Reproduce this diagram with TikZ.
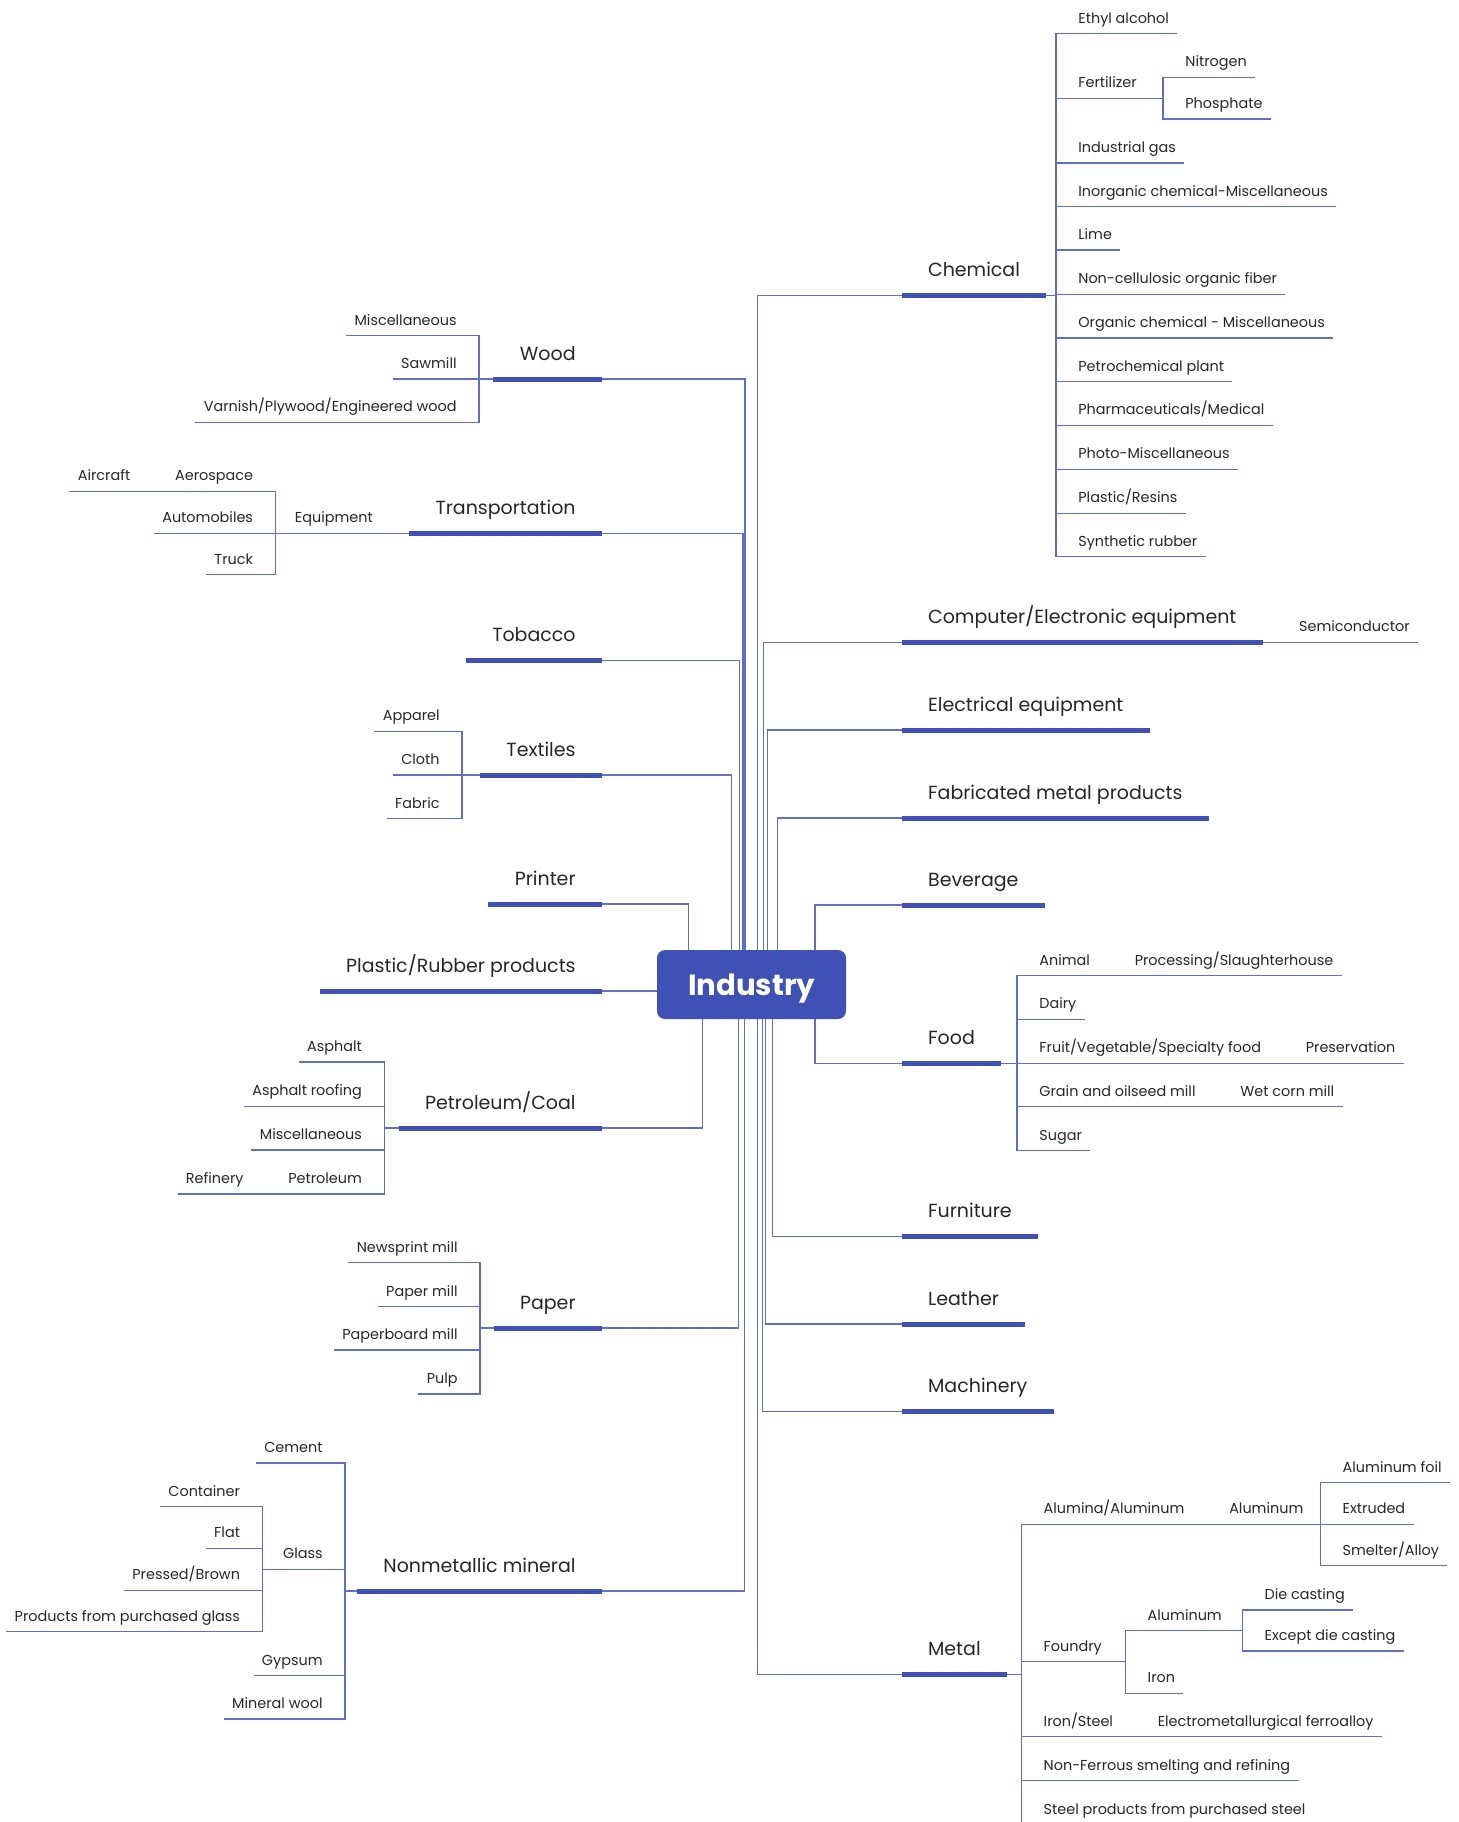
\documentclass[tikz,border=0pt]{standalone}
\usepackage{fontspec}
\setmainfont{Poppins}
\definecolor{indigo}{RGB}{63,81,181}
\definecolor{linkblue}{RGB}{95,110,200}
\definecolor{inktext}{RGB}{38,38,38}

\tikzset{
  mainnode/.style={inner xsep=13pt, inner ysep=0pt, text height=7pt, text depth=9.3pt,
    font=\fontsize{9.5}{11}\selectfont, text=inktext},
  leaf/.style={inner xsep=4pt, inner ysep=0pt, text height=5.5pt, text depth=5pt,
    font=\fontsize{7.2}{9}\selectfont, text=inktext},
  link/.style={draw=linkblue, line width=0.75pt},
  bar/.style={draw=indigo, line width=2.5pt},
}

\begin{document}
\begin{tikzpicture}[x=0.5pt,y=-0.5pt]
  \useasboundingbox (0,0) rectangle (1459,1822);

  % centre
  \node[fill=indigo, rounded corners=4pt, minimum width=94.5pt, minimum height=34.5pt,
    inner sep=0pt, text depth=0pt, text=white, font=\fontsize{14.6}{17}\selectfont\bfseries] (ind) at (751.5,984.5) {Industry};

  % main branches, left
  \node[mainnode, anchor=south east] (wood) at (602,379) {Wood};
  \node[mainnode, anchor=south east] (trans) at (602,533.3) {Transportation};
  \node[mainnode, anchor=south east] (tob) at (602,660.7) {Tobacco};
  \node[mainnode, anchor=south east] (texl) at (602,775) {Textiles};
  \node[mainnode, anchor=south east] (prnt) at (602,904) {Printer};
  \node[mainnode, anchor=south east] (plas) at (602,991) {Plastic/Rubber products};
  \node[mainnode, anchor=south east] (petc) at (602,1128) {Petroleum/Coal};
  \node[mainnode, anchor=south east] (papr) at (602,1328) {Paper};
  \node[mainnode, anchor=south east] (nonm) at (602,1591) {Nonmetallic mineral};

  % main branches, right
  \node[mainnode, anchor=south west] (chem) at (901.7,295.3) {Chemical};
  \node[mainnode, anchor=south west] (comp) at (901.7,642.3) {Computer/Electronic equipment};
  \node[mainnode, anchor=south west] (elec) at (901.7,730) {Electrical equipment};
  \node[mainnode, anchor=south west] (fabm) at (901.7,818) {Fabricated metal products};
  \node[mainnode, anchor=south west] (bev) at (901.7,905) {Beverage};
  \node[mainnode, anchor=south west] (food) at (901.7,1063.3) {Food};
  \node[mainnode, anchor=south west] (furn) at (901.7,1236.7) {Furniture};
  \node[mainnode, anchor=south west] (leat) at (901.7,1324) {Leather};
  \node[mainnode, anchor=south west] (mach) at (901.7,1411.7) {Machinery};
  \node[mainnode, anchor=south west] (metl) at (901.7,1674.3) {Metal};

  \foreach \m in {wood,trans,tob,texl,prnt,plas,petc,papr,nonm,chem,comp,elec,fabm,bev,food,furn,leat,mach,metl}
    \draw[bar] (\m.south west) -- (\m.south east);

  % trunk lines
  \foreach \m/\dx in {wood/-3.25,trans/-4.25,tob/-6.1,texl/-9.9,prnt/-31.6}
    \draw[link] ([xshift=\dx pt]ind.north) |- (\m.south east);
  \foreach \m/\dx in {petc/-24.6,papr/-6.6,nonm/-3.6}
    \draw[link] ([xshift=\dx pt]ind.south) |- (\m.south east);
  \foreach \m/\dx in {chem/3.1,comp/5.9,elec/8.1,fabm/12.9,bev/31.75}
    \draw[link] ([xshift=\dx pt]ind.north) |- (\m.south west);
  \foreach \m/\dx in {food/31.75,furn/10.4,leat/7.1,mach/5.4,metl/3.1}
    \draw[link] ([xshift=\dx pt]ind.south) |- (\m.south west);
  \draw[link] (plas.south east) -- (plas.south east -| ind.west);

  % Chemical
  \node[leaf, anchor=south west] (eth) at (1070,33.7) {Ethyl alcohol};
  \node[leaf, anchor=south west] (fert) at (1070,98.3) {Fertilizer};
  \node[leaf, anchor=south west] (igas) at (1070,163) {Industrial gas};
  \node[leaf, anchor=south west] (inorg) at (1070,206.7) {Inorganic chemical-Miscellaneous};
  \node[leaf, anchor=south west] (lime) at (1070,250) {Lime};
  \node[leaf, anchor=south west] (ncell) at (1070,294.3) {Non-cellulosic organic fiber};
  \node[leaf, anchor=south west] (orgc) at (1070,338) {Organic chemical - Miscellaneous};
  \node[leaf, anchor=south west] (ptrc) at (1070,381.7) {Petrochemical plant};
  \node[leaf, anchor=south west] (phar) at (1070,425.3) {Pharmaceuticals/Medical};
  \node[leaf, anchor=south west] (phot) at (1070,469.3) {Photo-Miscellaneous};
  \node[leaf, anchor=south west] (plrs) at (1070,513.3) {Plastic/Resins};
  \node[leaf, anchor=south west] (synr) at (1070,556.7) {Synthetic rubber};
  \node[leaf, anchor=south west] (nitr) at (1177,77.3) {Nitrogen};
  \node[leaf, anchor=south west] (phos) at (1177,119) {Phosphate};
  \foreach \c in {eth,fert,igas,inorg,lime,ncell,orgc,ptrc,phar,phot,plrs,synr}
    \draw[link] (chem.south east) -| ([xshift=-7pt]\c.south west) -- (\c.south east);
  \foreach \c in {nitr,phos}
    \draw[link] (fert.south east) -| ([xshift=-7pt]\c.south west) -- (\c.south east);

  % Computer
  \node[leaf, anchor=south west] (semi) at ([xshift=14pt]comp.south east) {Semiconductor};
  \draw[link] (comp.south east) -- (semi.south east);

  % Food
  \node[leaf, anchor=south west] (anim) at (1031,975.7) {Animal};
  \node[leaf, anchor=south west] (dair) at (1031,1019.3) {Dairy};
  \node[leaf, anchor=south west] (frui) at (1031,1063.3) {Fruit/Vegetable/Specialty food};
  \node[leaf, anchor=south west] (grai) at (1031,1106.7) {Grain and oilseed mill};
  \node[leaf, anchor=south west] (sugr) at (1031,1150.7) {Sugar};
  \node[leaf, anchor=south west] (proc) at ([xshift=14pt]anim.south east) {Processing/Slaughterhouse};
  \node[leaf, anchor=south west] (pres) at ([xshift=14pt]frui.south east) {Preservation};
  \node[leaf, anchor=south west] (wetc) at ([xshift=14pt]grai.south east) {Wet corn mill};
  \foreach \c in {anim,dair,frui,grai,sugr}
    \draw[link] (food.south east) -| ([xshift=-7pt]\c.south west) -- (\c.south east);
  \foreach \a/\b in {anim/proc,frui/pres,grai/wetc}
    \draw[link] (\a.south east) -- (\b.south east);

  % Metal
  \node[leaf, anchor=south west] (alum) at (1035.3,1524.3) {Alumina/Aluminum};
  \node[leaf, anchor=south west] (alu2) at ([xshift=14pt]alum.south east) {Aluminum};
  \node[leaf, anchor=south west] (afoi) at (1334.3,1482.7) {Aluminum foil};
  \node[leaf, anchor=south west] (extr) at (1334.3,1524.3) {Extruded};
  \node[leaf, anchor=south west] (smlt) at (1334.3,1565.7) {Smelter/Alloy};
  \node[leaf, anchor=south west] (fndr) at (1035.3,1661.7) {Foundry};
  \node[leaf, anchor=south west] (falu) at (1139.3,1630.7) {Aluminum};
  \node[leaf, anchor=south west] (diec) at (1256.3,1610) {Die casting};
  \node[leaf, anchor=south west] (exdc) at (1256.3,1651) {Except die casting};
  \node[leaf, anchor=south west] (iron) at (1139.3,1693.3) {Iron};
  \node[leaf, anchor=south west] (irst) at (1035.3,1736.7) {Iron/Steel};
  \node[leaf, anchor=south west] (elmf) at ([xshift=14pt]irst.south east) {Electrometallurgical ferroalloy};
  \node[leaf, anchor=south west] (nonf) at (1035.3,1780.7) {Non-Ferrous smelting and refining};
  \node[leaf, anchor=south west] (stpr) at (1035.3,1824.4) {Steel products from purchased steel};
  \foreach \c in {alum,fndr,irst,nonf,stpr}
    \draw[link] (metl.south east) -| ([xshift=-7pt]\c.south west) -- (\c.south east);
  \draw[link] (alum.south east) -- (alu2.south east);
  \draw[link] (irst.south east) -- (elmf.south east);
  \foreach \c in {afoi,extr,smlt}
    \draw[link] (alu2.south east) -| ([xshift=-7pt]\c.south west) -- (\c.south east);
  \foreach \c in {falu,iron}
    \draw[link] (fndr.south east) -| ([xshift=-7pt]\c.south west) -- (\c.south east);
  \foreach \c in {diec,exdc}
    \draw[link] (falu.south east) -| ([xshift=-7pt]\c.south west) -- (\c.south east);

  % Wood
  \node[leaf, anchor=south east] (wmis) at (465,335.7) {Miscellaneous};
  \node[leaf, anchor=south east] (sawm) at (465,379) {Sawmill};
  \node[leaf, anchor=south east] (varn) at (465,422.3) {Varnish/Plywood/Engineered wood};
  \foreach \c in {wmis,sawm,varn}
    \draw[link] (wood.south west) -| ([xshift=7pt]\c.south east) -- (\c.south west);

  % Transportation
  \node[leaf, anchor=south east] (equi) at ([xshift=-14pt]trans.south west) {Equipment};
  \node[leaf, anchor=south east] (aero) at (261.4,491.3) {Aerospace};
  \node[leaf, anchor=south east] (auto) at (261.4,533.3) {Automobiles};
  \node[leaf, anchor=south east] (truk) at (261.4,574.7) {Truck};
  \node[leaf, anchor=south east] (airc) at ([xshift=-14pt]aero.south west) {Aircraft};
  \draw[link] (trans.south west) -- (equi.south west);
  \foreach \c in {aero,auto,truk}
    \draw[link] (equi.south west) -| ([xshift=7pt]\c.south east) -- (\c.south west);
  \draw[link] (aero.south west) -- (airc.south west);

  % Textiles
  \node[leaf, anchor=south east] (appa) at (448,731.3) {Apparel};
  \node[leaf, anchor=south east] (clot) at (448,775) {Cloth};
  \node[leaf, anchor=south east] (fabr) at (448,818.4) {Fabric};
  \foreach \c in {appa,clot,fabr}
    \draw[link] (texl.south west) -| ([xshift=7pt]\c.south east) -- (\c.south west);

  % Petroleum/Coal
  \node[leaf, anchor=south east] (asph) at (370.3,1062.2) {Asphalt};
  \node[leaf, anchor=south east] (asrf) at (370.3,1106.3) {Asphalt roofing};
  \node[leaf, anchor=south east] (pmis) at (370.3,1150) {Miscellaneous};
  \node[leaf, anchor=south east] (ptrl) at (370.3,1193.8) {Petroleum};
  \node[leaf, anchor=south east] (refn) at ([xshift=-14pt]ptrl.south west) {Refinery};
  \foreach \c in {asph,asrf,pmis,ptrl}
    \draw[link] (petc.south west) -| ([xshift=7pt]\c.south east) -- (\c.south west);
  \draw[link] (ptrl.south west) -- (refn.south west);

  % Paper
  \node[leaf, anchor=south east] (news) at (466,1262.7) {Newsprint mill};
  \node[leaf, anchor=south east] (pmil) at (466,1306.4) {Paper mill};
  \node[leaf, anchor=south east] (pbrd) at (466,1350.1) {Paperboard mill};
  \node[leaf, anchor=south east] (pulp) at (466,1393.8) {Pulp};
  \foreach \c in {news,pmil,pbrd,pulp}
    \draw[link] (papr.south west) -| ([xshift=7pt]\c.south east) -- (\c.south west);

  % Nonmetallic mineral
  \node[leaf, anchor=south east] (cemt) at (331,1463) {Cement};
  \node[leaf, anchor=south east] (glas) at (331,1569.3) {Glass};
  \node[leaf, anchor=south east] (gyps) at (331,1675.7) {Gypsum};
  \node[leaf, anchor=south east] (mwol) at (331,1719) {Mineral wool};
  \node[leaf, anchor=south east] (cont) at (248.4,1506.7) {Container};
  \node[leaf, anchor=south east] (flat) at (248.4,1548.3) {Flat};
  \node[leaf, anchor=south east] (prsb) at (248.4,1590.3) {Pressed/Brown};
  \node[leaf, anchor=south east] (prgl) at (248.4,1631.7) {Products from purchased glass};
  \foreach \c in {cemt,glas,gyps,mwol}
    \draw[link] (nonm.south west) -| ([xshift=7pt]\c.south east) -- (\c.south west);
  \foreach \c in {cont,flat,prsb,prgl}
    \draw[link] (glas.south west) -| ([xshift=7pt]\c.south east) -- (\c.south west);
\end{tikzpicture}
\end{document}
